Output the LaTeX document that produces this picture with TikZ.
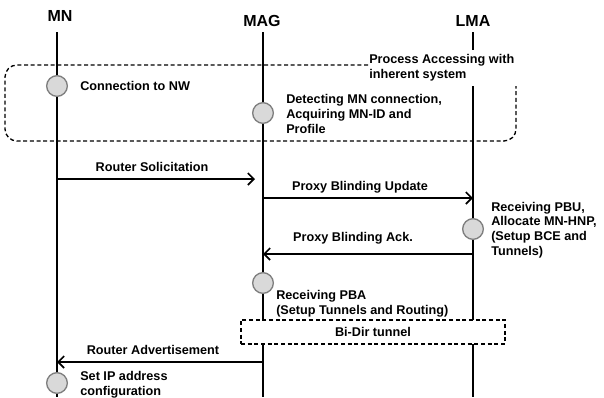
\documentclass[tikz,border=0pt]{standalone}
\usepackage{fontspec}
\setmainfont{Liberation Sans}
\usetikzlibrary{arrows.meta}
\definecolor{evfill}{RGB}{217,217,217}
\definecolor{evline}{RGB}{127,127,127}
\tikzset{
	life/.style={line width=1.2pt},
	msg/.style={line width=1.2pt,-{Straight Barb[length=4.5pt,width=9pt,line width=1.2pt]}},
	event/.style={circle,draw=evline,fill=evfill,line width=1pt,minimum size=15.5pt,inner sep=0pt},
	txt/.style={anchor=west,inner sep=0.75pt,align=left,font=\fontsize{9.5}{11}\selectfont\bfseries},
	msglabel/.style={inner sep=0.75pt,font=\fontsize{9.5}{11}\selectfont\bfseries},
	actor/.style={inner sep=0.75pt,font=\fontsize{12}{14}\selectfont\bfseries},
	procbox/.style={line width=1pt,dash pattern=on 3pt off 2pt}
}
\begin{document}
\begin{tikzpicture}[x=0.75pt,y=0.75pt,yscale=-1,xscale=1]
	\useasboundingbox (0,0) rectangle (604,397);
	% Actors
	\node [actor] (mn) at (60,16) {MN};
	\node [actor] (mag) at (262,21) {MAG};
	\node [actor] (lma) at (473,21) {LMA};
	\coordinate (mnT) at (57,32);
	\coordinate (mnB) at (57,397);
	\coordinate (magT) at (263,32);
	\coordinate (magB) at (263,397);
	\coordinate (lmaT) at (473,32);
	\coordinate (lmaG1) at (473,50);
	\coordinate (lmaG2) at (473,86);
	\coordinate (lmaB) at (473,397);
	%Life Lines
	\draw [life] (mnT) -- (mnB);
	\draw [life] (magT) -- (magB);
	\draw [life] (lmaT) -- (lmaG1);
	\draw [life] (lmaG2) -- (lmaB);
	
	%Process box
	\draw [procbox, rounded corners=9pt] (368,65) -- (5,65) -- (5,141) -- (516,141) -- (516,86);
	% Text Node
	\node [txt] (proc) at (368,68) {Process Accessing with\\inherent system};
	
	%Events
	\node [event] (ev1) at (57,86) {};
	\node [txt] (ev1t) at (79,86) {Connection to NW};
	\node [event] (ev2) at (263,113) {};
	\node [txt] (ev2t) at (285,114) {Detecting MN connection,\\Acquiring MN-ID and\\Profile};
	
	%Messages
	\coordinate (rsA) at (57,179);
	\coordinate (rsB) at (263,179);
	\draw [msg, shorten >=6pt] (rsA) -- (rsB);
	\node [msglabel] (rs) at (152,167) {Router Solicitation};
	\coordinate (pbuA) at (263,198);
	\coordinate (pbuB) at (473,198);
	\draw [msg] (pbuA) -- (pbuB);
	\node [msglabel] (pbu) at (360,187) {Proxy Blinding Update};
	
	\node [event] (ev3) at (473,229) {};
	\node [txt] (ev3t) at (490,230) {Receiving PBU,\\Allocate MN-HNP,\\(Setup BCE and\\Tunnels)};
	
	\coordinate (pbaA) at (473,254);
	\coordinate (pbaB) at (263,254);
	\draw [msg] (pbaA) -- (pbaB);
	\node [msglabel] (pba) at (353,238) {Proxy Blinding Ack.};
	
	\node [event] (ev4) at (263,283) {};
	\node [txt] (ev4t) at (275,304) {Receiving PBA\\(Setup Tunnels and Routing)};
	
	%Tunnel box
	\node [draw,procbox,fill=white,minimum width=264*0.75pt,minimum height=24*0.75pt,inner sep=0pt,
		font=\fontsize{9.5}{11}\selectfont\bfseries] (tun) at (373,332) {Bi-Dir tunnel};
	
	\coordinate (raA) at (263,362);
	\coordinate (raB) at (57,362);
	\draw [msg] (raA) -- (raB);
	\node [msglabel] (ra) at (153,350) {Router Advertisement};
	
	\node [event] (ev5) at (57,383) {};
	\node [txt] (ev5t) at (79,385) {Set IP address\\configuration};
\end{tikzpicture}
\end{document}
